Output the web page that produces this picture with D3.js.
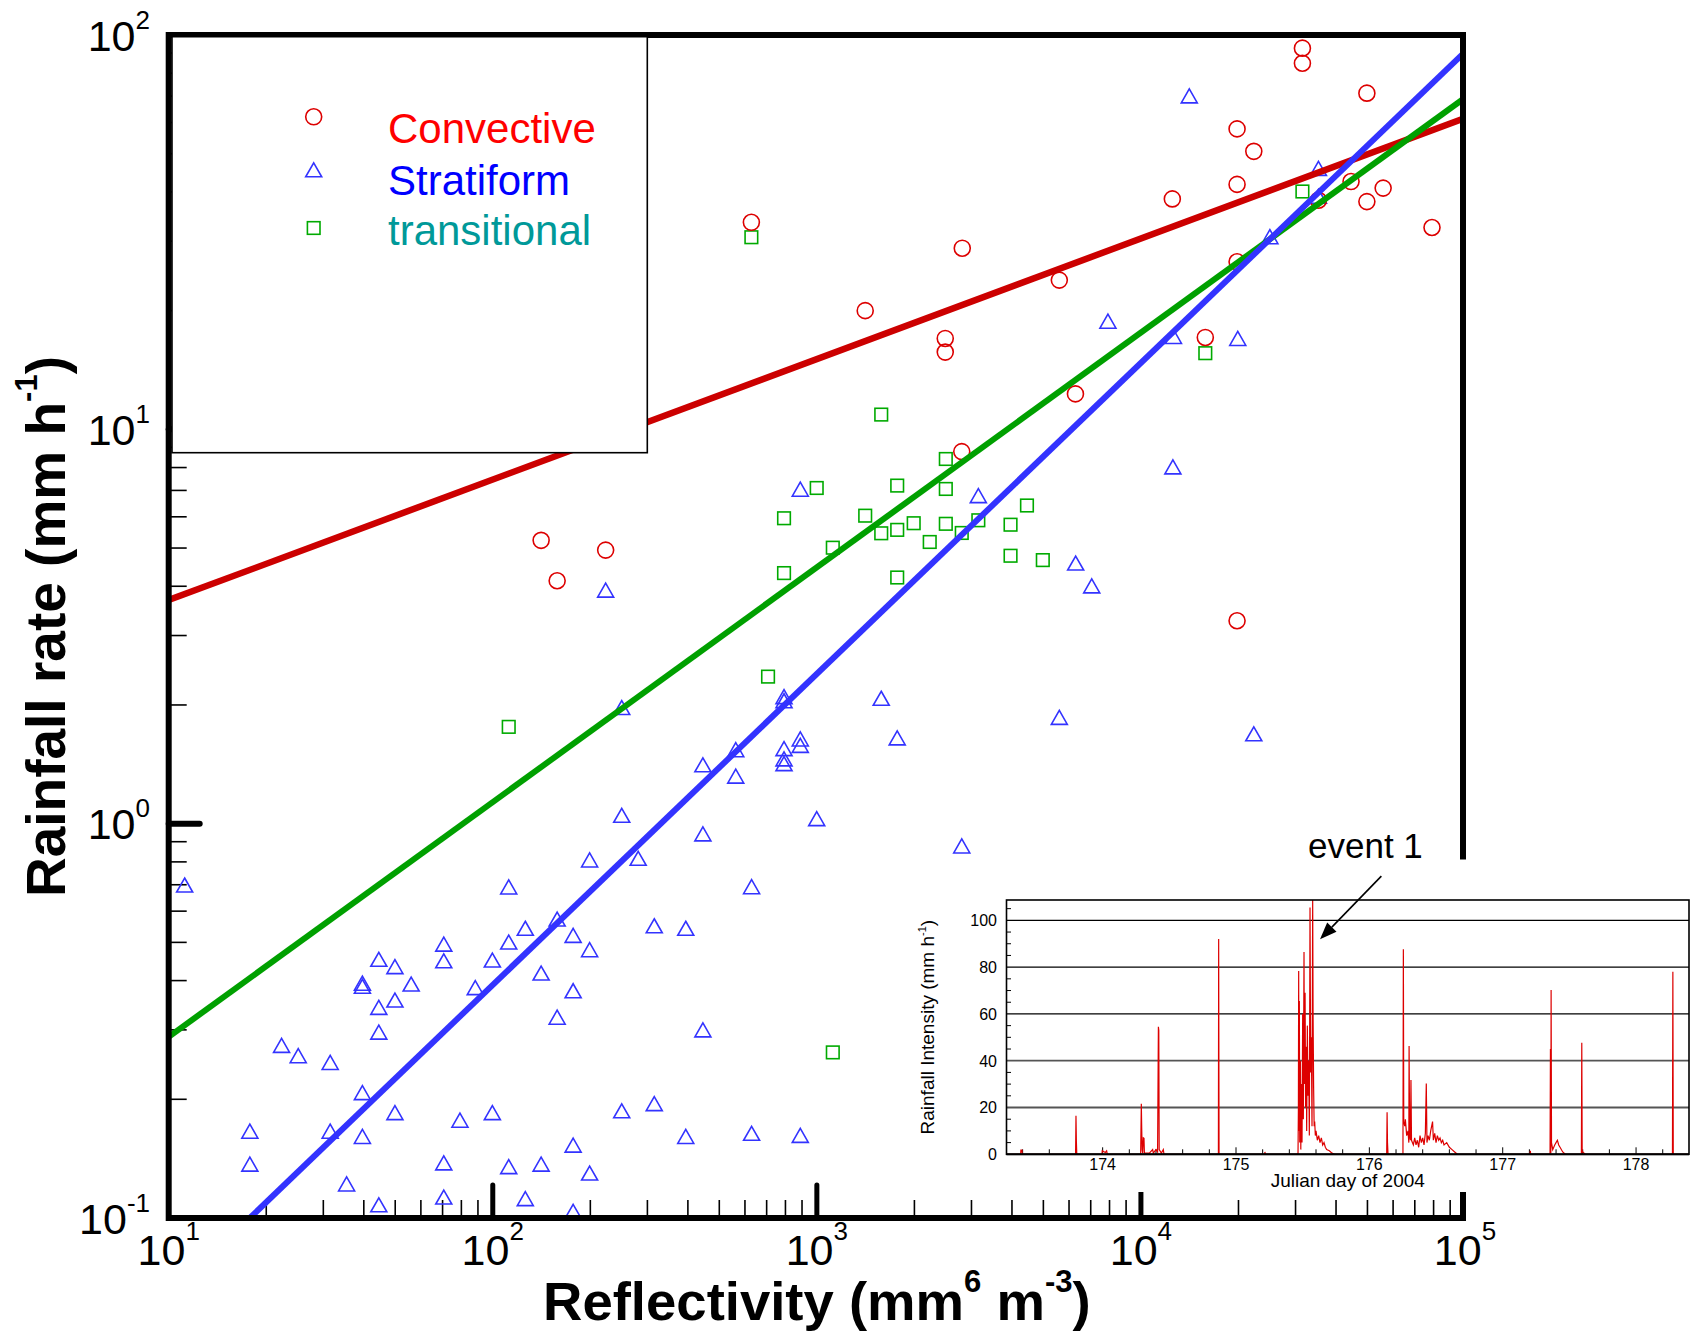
<!DOCTYPE html>
<html><head><meta charset="utf-8">
<script src="https://cdn.jsdelivr.net/npm/d3@7"></script>
<style>
html,body{margin:0;padding:0;background:#fff;}
svg{display:block;}
text{font-family:"Liberation Sans",Arial,Helvetica,sans-serif;}
</style></head><body>
<svg id="chart" width="1696" height="1333"></svg>
<script>
// ---------------- DATA ----------------
// [Reflectivity Z (mm^6 m^-3), Rainfall rate R (mm/h)]
const convective = [[31500,92.6],[31500,84.8],[49800,71.2],[19800,57.8],[22300,50.7],[44500,42.5],[55900,40.9],[19800,41.8],[12500,38.4],[49800,37.8],[35300,38.1],[79100,32.5],[2810,28.8],[19800,26.6],[5600,23.9],[628,33.5],[1410,20.0],[2490,17.0],[2490,15.7],[15800,17.1],[6280,12.3],[2800,8.78],[141,5.23],[158,4.13],[223,4.94],[19800,3.27]];
const transitional = [[628,30.7],[31500,40.1],[15800,15.6],[1580,10.9],[2500,8.41],[1770,7.20],[2500,7.06],[999,7.10],[4450,6.41],[792,5.95],[1410,6.04],[1580,5.45],[1770,5.56],[1990,5.78],[2500,5.76],[3150,5.88],[2800,5.46],[3960,5.73],[2230,5.18],[1120,5.01],[3960,4.78],[4980,4.66],[792,4.32],[1770,4.21],[707,2.36],[112,1.76],[1120,0.263]];
const stratiform = [[14100,70.1],[35300,45.9],[35300,39.0],[25000,30.8],[7910,18.8],[12600,17.2],[19900,17.0],[12550,8.03],[3150,6.79],[889,7.05],[6290,4.58],[7050,4.01],[223,3.91],[250,1.97],[792,2.10],[792,2.05],[1580,2.08],[5600,1.86],[22300,1.69],[1770,1.65],[889,1.64],[889,1.58],[792,1.55],[792,1.46],[792,1.42],[562,1.54],[445,1.41],[562,1.32],[250,1.05],[999,1.03],[445,0.942],[2800,0.878],[11.2,0.699],[112,0.691],[199,0.809],[281,0.817],[629,0.692],[126,0.543],[158,0.573],[177,0.521],[112,0.501],[70.6,0.495],[199,0.479],[315,0.551],[394,0.543],[70.6,0.449],[99.7,0.451],[44.5,0.453],[49.9,0.434],[39.6,0.394],[39.6,0.387],[56.0,0.392],[88.3,0.384],[49.9,0.357],[44.5,0.342],[141,0.418],[177,0.377],[158,0.323],[44.5,0.296],[22.3,0.274],[25.1,0.258],[31.5,0.248],[39.6,0.208],[49.9,0.185],[79.2,0.177],[99.7,0.185],[250,0.187],[315,0.195],[17.8,0.166],[31.5,0.166],[39.6,0.161],[177,0.153],[394,0.161],[17.8,0.137],[70.6,0.138],[112,0.135],[141,0.137],[199,0.130],[35.4,0.122],[70.6,0.113],[126,0.112],[44.5,0.108],[177,0.104],[445,0.300],[629,0.164],[889,0.162]];
// fitted Z-R relations (end points)
const convectiveFit = [[10,3.69],[1e5,61.6]];
const transitionalFit = [[10,0.288],[1e5,69.3]];
const stratiformFit = [[17.8,0.1],[1e5,90.6]];
const legendLabels = ["Convective","Stratiform","transitional"];
const xTickExps = [1,2,3,4,5];
const yTickExps = [-1,0,1,2];
// inset: rainfall intensity time series [Julian day, mm/h]
const rainSeries = [[173.28,0],[173.385,0],[173.387,1.8],[173.395,1.8],[173.397,0],
[173.797,0],[173.80,16.5],[173.803,5.5],[173.806,0],
[173.995,0],[173.997,1.5],[174.02,0.8],[174.03,1.5],[174.035,0],
[174.285,0],[174.29,21.6],[174.293,11],[174.296,2],[174.30,0.5],[174.305,7],[174.31,6.8],[174.313,0.5],[174.35,0.5],[174.375,2],[174.38,0.5],[174.40,2],[174.412,1],[174.418,54.5],[174.421,53],[174.424,2],[174.44,0.5],[174.455,2],[174.46,0],
[174.868,0],[174.87,92],[174.873,0],
[175.215,0],[175.217,1],[175.22,0],
[175.465,0],[175.468,20],[175.47,78.3],[175.472,10],[175.475,65.5],[175.478,5],[175.483,40],[175.486,2],[175.49,30],[175.495,5],[175.50,60],[175.505,15],[175.51,86.5],[175.513,30],[175.518,69],[175.522,20],[175.527,46],[175.53,10],[175.535,55],[175.54,25],[175.545,40],[175.55,8],[175.555,105.5],[175.56,35],[175.565,50],[175.57,12],[175.575,108.7],[175.578,60],[175.582,29],[175.586,12],[175.59,14],[175.595,8],[175.60,10],[175.61,6],[175.62,8],[175.63,5],[175.64,7],[175.65,4],[175.66,5],[175.67,3],[175.68,2],[175.70,1.5],[175.72,0.5],[175.74,0],
[176.13,0],[176.133,18],[176.136,5],[176.14,0],
[176.252,0],[176.255,87.7],[176.258,14],[176.265,12],[176.27,15],[176.28,8],[176.29,10],[176.296,5],[176.298,46.3],[176.302,8],[176.308,6],[176.312,31.8],[176.316,6],[176.33,4],[176.34,7],[176.35,4],[176.36,6],[176.37,3],[176.38,8],[176.39,5],[176.40,7],[176.41,4],[176.42,9],[176.427,30.3],[176.432,5],[176.44,8],[176.45,6],[176.46,10],[176.474,14],[176.48,6],[176.49,9],[176.50,5],[176.51,8],[176.52,6],[176.53,7],[176.54,5],[176.55,6],[176.56,4],[176.58,5],[176.60,3],[176.62,2],[176.64,1],[176.66,0],
[177.205,0],[177.207,1.5],[177.21,0],
[177.355,0],[177.358,45],[177.361,0.5],[177.363,70.2],[177.366,5],[177.375,2],[177.39,4],[177.40,5],[177.41,6],[177.42,4],[177.43,3],[177.45,1],[177.47,0],
[177.59,0],[177.593,47.7],[177.596,1],[177.60,1],[177.61,0.5],[177.62,0],
[178.273,0],[178.276,78],[178.279,0],[178.397,0]];
const insetYTicks = [0,20,40,60,80,100];
const insetXTicks = [174,175,176,177,178];
const eventArrow = [[176.09,118.9],[175.63,91.9]];
const eventText = "event 1";

// ---------------- LAYOUT ----------------
const svg = d3.select('#chart');
const x = d3.scaleLog().domain([10,1e5]).range([168.7,1465]);
const y = d3.scaleLog().domain([0.1,100]).range([1218,35]);
const X0=x.range()[0], X1=x.range()[1], Y0=y.range()[0], Y1=y.range()[1];

const defs = svg.append('defs');
defs.append('clipPath').attr('id','plotClip').append('rect')
  .attr('x',X0).attr('y',Y1).attr('width',X1-X0).attr('height',Y0-Y1);

const cRed='#dd0000', cBlue='#3333ff', cGreen='#00aa00';

// ticks
const g = svg.append('g');
const isDecade = v => Math.abs(Math.log10(v)-Math.round(Math.log10(v)))<1e-9;
x.ticks().forEach(t=>{
  if (t<=10 || t>=1e5) return;
  const maj=isDecade(t);
  g.append('line').attr('x1',x(t)).attr('x2',x(t)).attr('y1',Y0).attr('y2',Y0-(maj?33:18))
    .attr('stroke','#000').attr('stroke-width',maj?5:1.6).attr('stroke-linecap',maj?'round':'butt');
});
y.ticks().forEach(t=>{
  if (t<=0.1 || t>=100) return;
  const maj=isDecade(t);
  g.append('line').attr('y1',y(t)).attr('y2',y(t)).attr('x1',X0).attr('x2',X0+(maj?31:18))
    .attr('stroke','#000').attr('stroke-width',maj?6:1.6).attr('stroke-linecap',maj?'round':'butt');
});

// markers
const pts = svg.append('g').attr('clip-path','url(#plotClip)');
const triPath = 'M0,-7L8,7L-8,7Z';
function drawCircle(sel,px,py){sel.append('circle').attr('cx',px).attr('cy',py).attr('r',8).attr('fill','none').attr('stroke',cRed).attr('stroke-width',1.6);}
function drawTri(sel,px,py){sel.append('path').attr('d',triPath).attr('transform',`translate(${px},${py})`).attr('fill','none').attr('stroke',cBlue).attr('stroke-width',1.6);}
function drawSq(sel,px,py){sel.append('rect').attr('x',px-6.3).attr('y',py-6.3).attr('width',12.6).attr('height',12.6).attr('fill','none').attr('stroke',cGreen).attr('stroke-width',1.6);}
stratiform.forEach(d=>drawTri(pts,x(d[0]),y(d[1])));
transitional.forEach(d=>drawSq(pts,x(d[0]),y(d[1])));
convective.forEach(d=>drawCircle(pts,x(d[0]),y(d[1])));

// fitted lines
const line = d3.line().x(d=>x(d[0])).y(d=>y(d[1]));
const lines = svg.append('g').attr('clip-path','url(#plotClip)');
[[convectiveFit,'#cc0000',6.5],[transitionalFit,'#00a000',6],[stratiformFit,'#3333ff',6]].forEach(([d,c,w])=>{
  lines.append('path').attr('d',line(d)).attr('fill','none').attr('stroke',c).attr('stroke-width',w);
});

// frame
svg.append('rect').attr('x',X0).attr('y',Y1).attr('width',X1-2-X0).attr('height',Y0-Y1)
  .attr('fill','none').attr('stroke','#000').attr('stroke-width',6);

// legend
const lg = svg.append('g');
lg.append('rect').attr('x',172).attr('y',36.7).attr('width',475.3).attr('height',416)
  .attr('fill','#fff').attr('stroke','#000').attr('stroke-width',1.6);
drawCircle(lg,313.7,116.8); drawTri(lg,313.7,169.8); drawSq(lg,313.7,228);
const lgColors=['#ff0000','#0000ff','#009999'];
[143,195,245].forEach((yy,i)=>{
  lg.append('text').attr('x',388).attr('y',yy).attr('font-size',42).attr('fill',lgColors[i]).text(legendLabels[i]);
});

// tick labels
const labs = svg.append('g').attr('font-size',43).attr('fill','#000');
xTickExps.forEach(e=>{
  const t=labs.append('text').attr('x',x(Math.pow(10,e))).attr('y',1265).attr('text-anchor','middle');
  t.append('tspan').text('10');
  t.append('tspan').attr('font-size',26).attr('dy',-25).text(String(e));
});
yTickExps.forEach(e=>{
  const t=labs.append('text').attr('x',150).attr('y',y(Math.pow(10,e))+15.5).attr('text-anchor','end');
  t.append('tspan').text('10');
  t.append('tspan').attr('font-size',26).attr('dy',-22).text(e<0?'-'+(-e):String(e));
});

// axis titles
const xt = svg.append('text').attr('x',(X0+X1)/2).attr('y',1320).attr('text-anchor','middle')
  .attr('font-size',54.5).attr('font-weight','bold');
xt.append('tspan').text('Reflectivity (mm');
xt.append('tspan').attr('font-size',31).attr('dy',-28).text('6');
xt.append('tspan').attr('dy',28).text(' m');
xt.append('tspan').attr('font-size',31).attr('dy',-28).text('-3');
xt.append('tspan').attr('dy',28).text(')');

const yt = svg.append('text').attr('transform',`translate(65,${(Y0+Y1)/2}) rotate(-90)`).attr('text-anchor','middle')
  .attr('font-size',55).attr('font-weight','bold');
yt.append('tspan').text('Rainfall rate (mm h');
yt.append('tspan').attr('font-size',31).attr('dy',-28).text('-1');
yt.append('tspan').attr('dy',28).text(')');

// ---------------- INSET ----------------
svg.append('rect').attr('x',900).attr('y',859.5).attr('width',796).attr('height',332.5).attr('fill','#fff');
const xi = d3.scaleLinear().domain([173.279,178.397]).range([1006.5,1689]);
const yi = d3.scaleLinear().domain([0,108.7]).range([1154.3,900]);
defs.append('clipPath').attr('id','insetClip').append('rect')
  .attr('x',xi.range()[0]).attr('y',yi.range()[1]).attr('width',xi.range()[1]-xi.range()[0]).attr('height',yi.range()[0]-yi.range()[1]);
const ig = svg.append('g');
// gridlines
insetYTicks.filter(v=>v>0).forEach(v=>{
  ig.append('line').attr('x1',xi.range()[0]).attr('x2',xi.range()[1]).attr('y1',yi(v)).attr('y2',yi(v))
    .attr('stroke',v<=40?'#555':'#000').attr('stroke-width',v<=40?1.8:1.3);
});
// minor ticks
d3.range(5,108,5).filter(v=>v%20!==0).forEach(v=>{
  ig.append('line').attr('x1',xi.range()[0]).attr('x2',xi.range()[0]+4.5).attr('y1',yi(v)).attr('y2',yi(v)).attr('stroke','#000').attr('stroke-width',1);
});
d3.range(173.4,178.3,0.2).forEach(v=>{
  const maj=Math.abs(v-Math.round(v))<1e-6;
  ig.append('line').attr('x1',xi(v)).attr('x2',xi(v)).attr('y1',yi(0)).attr('y2',yi(0)-(maj?7:5)).attr('stroke','#000').attr('stroke-width',1);
});
// series
ig.append('path').attr('clip-path','url(#insetClip)')
  .attr('d',d3.line().x(d=>xi(d[0])).y(d=>yi(d[1]))(rainSeries))
  .attr('fill','none').attr('stroke','#dd0000').attr('stroke-width',1.2);
// frame
ig.append('rect').attr('x',xi.range()[0]).attr('y',yi.range()[1]).attr('width',xi.range()[1]-xi.range()[0]).attr('height',yi.range()[0]-yi.range()[1])
  .attr('fill','none').attr('stroke','#000').attr('stroke-width',1.6);
ig.append('line').attr('x1',xi.range()[0]).attr('x2',xi.range()[1]).attr('y1',yi(0)).attr('y2',yi(0)).attr('stroke','#000').attr('stroke-width',2);
// labels
insetYTicks.forEach(v=>{
  ig.append('text').attr('x',997).attr('y',yi(v)+5.8).attr('text-anchor','end').attr('font-size',16).text(v);
});
insetXTicks.forEach(v=>{
  ig.append('text').attr('x',xi(v)).attr('y',1169.5).attr('text-anchor','middle').attr('font-size',16).text(v);
});
ig.append('text').attr('x',(xi.range()[0]+xi.range()[1])/2).attr('y',1186.5).attr('text-anchor','middle').attr('font-size',19).text('Julian day of 2004');
const iyt = ig.append('text').attr('transform',`translate(934,${(yi.range()[0]+yi.range()[1])/2}) rotate(-90)`).attr('text-anchor','middle').attr('font-size',19);
iyt.append('tspan').text('Rainfall Intensity (mm h');
iyt.append('tspan').attr('font-size',11).attr('dy',-8).text('-1');
iyt.append('tspan').attr('dy',8).text(')');

// annotation
const [a0,a1] = eventArrow.map(d=>[xi(d[0]),yi(d[1])]);
const ang = Math.atan2(a1[1]-a0[1],a1[0]-a0[0]);
const hl=17, hw=6.5;
const bx=a1[0]-hl*Math.cos(ang), by=a1[1]-hl*Math.sin(ang);
ig.append('line').attr('x1',a0[0]).attr('y1',a0[1]).attr('x2',bx).attr('y2',by).attr('stroke','#000').attr('stroke-width',1.6);
ig.append('path').attr('d',`M${a1[0]},${a1[1]}L${bx+hw*Math.sin(ang)},${by-hw*Math.cos(ang)}L${bx-hw*Math.sin(ang)},${by+hw*Math.cos(ang)}Z`).attr('fill','#000');
ig.append('text').attr('x',1308).attr('y',858).attr('font-size',35).text(eventText);
</script>
</body></html>
